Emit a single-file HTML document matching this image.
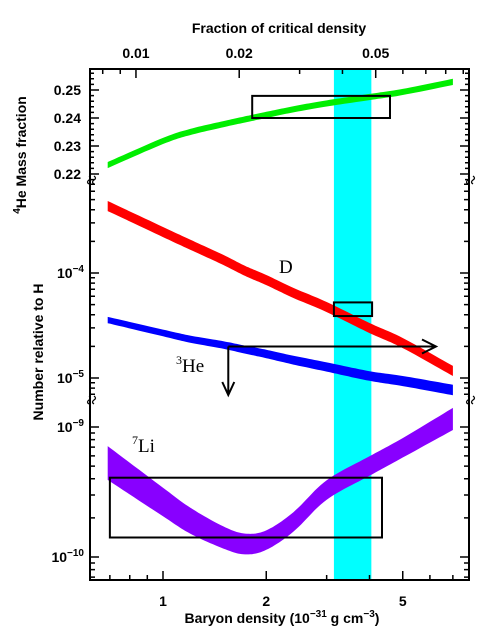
<!DOCTYPE html>
<html><head><meta charset="utf-8"><style>
html,body{margin:0;padding:0;background:#fff;}
svg{display:block;font-family:"Liberation Sans",sans-serif;}
.tl{font-weight:bold;font-size:14px;}
</style></head><body>
<svg id="chart" width="490" height="636" viewBox="0 0 490 636" xmlns="http://www.w3.org/2000/svg"></svg>
<script>
// ---- data ----
const rho = [0.69, 1, 1.2, 1.5, 1.735, 2, 2.4, 3, 4, 5, 7];
const he4 = [0.2232, 0.2318, 0.2350, 0.2378, 0.2395, 0.2411, 0.2431, 0.2452, 0.2475, 0.2493, 0.2529];
const dLog = [-3.362, -3.61, -3.73, -3.876, -3.98, -4.067, -4.19, -4.324, -4.524, -4.667, -4.933];
const he3Log = [-4.448, -4.571, -4.63, -4.686, -4.73, -4.771, -4.83, -4.895, -4.981, -5.029, -5.114];
const li7Log = [-9.277, -9.577, -9.72, -9.85, -9.90, -9.87, -9.73, -9.485, -9.30, -9.16, -8.938];
const li7Half = [0.13, 0.11, 0.1, 0.085, 0.08, 0.075, 0.075, 0.075, 0.075, 0.075, 0.085];
const xTicks = [1, 2, 5];
const omegaTicks = [0.01, 0.02, 0.05];
const heTicks = [0.22, 0.23, 0.24, 0.25];
const bandRho = [3.15, 4.05];
const heBox = [1.82, 4.59, 0.2400, 0.2479];
const dBox = [3.15, 4.07, -4.41, -4.28];
const liBox = [0.7, 4.35, -9.39, -9.85];
const he3Limit = [1.55, -4.7];

// ---- axes ----
const L=90,R=469,T=69,B=580;
const X=v=>163+343*Math.log10(v);
const OM=o=>X(o*83.4);
const YHe=v=>90+(0.25-v)*2800;
const YMid=l=>273+(-4-l)*105;
const YLi=l=>427+(-9-l)*130;

const svg=document.getElementById('chart');
const NS='http://www.w3.org/2000/svg';
function mk(tag,attrs,parent){const e=document.createElementNS(NS,tag);for(const k in attrs)e.setAttribute(k,attrs[k]);(parent||svg).appendChild(e);return e;}

const band=mk('rect',{x:X(bandRho[0]),y:T,width:X(bandRho[1])-X(bandRho[0]),height:B-T,fill:'#00ffff'});



function smooth(px,py){
  const out=[];const n=px.length;
  for(let i=0;i<n-1;i++){
    const x0=px[Math.max(i-1,0)],x1=px[i],x2=px[i+1],x3=px[Math.min(i+2,n-1)];
    const y0=py[Math.max(i-1,0)],y1=py[i],y2=py[i+1],y3=py[Math.min(i+2,n-1)];
    for(let k=0;k<12;k++){const t=k/12,t2=t*t,t3=t2*t;
      const f=(a,b,c,d)=>0.5*((2*b)+(-a+c)*t+(2*a-5*b+4*c-d)*t2+(-a+3*b-3*c+d)*t3);
      out.push([f(x0,x1,x2,x3),f(y0,y1,y2,y3)]);}
  }
  out.push([px[n-1],py[n-1]]);return out;
}
function bandPath(yf,vals,half){
  const xs=rho.map(X);
  const up=smooth(xs,vals.map((v,i)=>yf(v+(Array.isArray(half)?half[i]:half))));
  const lo=smooth(xs,vals.map((v,i)=>yf(v-(Array.isArray(half)?half[i]:half))));
  const p=a=>a.map(q=>q[0].toFixed(1)+','+q[1].toFixed(1));
  return 'M'+p(up).join(' L')+' L'+p(lo).reverse().join(' L')+' Z';
}
const g1=mk('path',{d:bandPath(YHe,he4,0.0011),fill:'#00ee00'});


const g2=mk('path',{d:bandPath(YMid,dLog,0.048),fill:'#ff0000'});


const he3Half=rho.map((r,i)=>0.03+0.02*i/(rho.length-1));
const g3=mk('path',{d:bandPath(YMid,he3Log,he3Half),fill:'#0000ff'});


const g4=mk('path',{d:bandPath(YLi,li7Log,li7Half),fill:'#8800ff'});



function box(b,yf,name){const y1=yf(b[2]),y2=yf(b[3]);const r=mk('rect',{x:X(b[0]),y:Math.min(y1,y2),width:X(b[1])-X(b[0]),height:Math.abs(y2-y1),fill:'none',stroke:'#000','stroke-width':2});
}
box(heBox,YHe,'he4-observed-box');
box(dBox,YMid,'deuterium-observed-box');
box(liBox,YLi,'li7-observed-box');

const ax=X(he3Limit[0]),ay=YMid(he3Limit[1]);
const arr=mk('g',{stroke:'#000','stroke-width':2,fill:'none'});


mk('path',{d:`M${ax},${ay} H436 M422,${ay-7} L436,${ay} L422,${ay+7} M${ax},${ay} V395 M${ax-6},382 L${ax},395 L${ax+6},382`},arr);

const fr=mk('rect',{x:L,y:T,width:R-L,height:B-T,fill:'none',stroke:'#000','stroke-width':2});



let tk='';
for(let d=-1;d<=0;d++)for(let m=1;m<10;m++){const v=m*Math.pow(10,d);const x=X(v);if(x<L+1||x>R-1)continue;const len=(m==1||m==2||m==5)?9:5;tk+=`M${x},${B} v${-len} `;}
for(let d=-3;d<=-1;d++)for(let m=1;m<10;m++){const v=m*Math.pow(10,d);const x=OM(v);if(x<L+1||x>R-1)continue;const len=(m==1||m==2||m==5)?9:5;tk+=`M${x},${T} v${len} `;}
for(let v=0.218;v<=0.2561;v+=0.002){const y=YHe(v);if(y<T+1)continue;const major=Math.abs(v*100-Math.round(v*100))<1e-6;const len=major?9:4;tk+=`M${L},${y} h${len} M${R},${y} h${-len} `;}
function logTicks(yf,lo,hi,ymin,ymax){for(let d=lo;d<=hi;d++)for(let m=1;m<10;m++){const y=yf(d+Math.log10(m));if(y<ymin||y>ymax)continue;const len=m==1?9:5;tk+=`M${L},${y} h${len} M${R},${y} h${-len} `;}}
logTicks(YMid,-6,-4,184,398);
logTicks(YLi,-11,-9,404,B-1);
const tp=mk('path',{d:tk,stroke:'#000','stroke-width':1.5,fill:'none'});



[180,400].forEach((y,i)=>{[L,R].forEach((x,j)=>{const b=mk('path',{d:`M${x-4},${y-4} q2,-3 4,0 t4,0 M${x-4},${y+1} q2,-3 4,0 t4,0`,stroke:'#000','stroke-width':1.3,fill:'none',transform:`rotate(90 ${x} ${y})`});
});});

function txt(x,y,s,attrs,name){const t=mk('text',Object.assign({x:x,y:y},attrs||{}));t.innerHTML=s;return t;}
xTicks.forEach(v=>txt(X(v),606,String(v),{class:'tl','text-anchor':'middle'},'x-tick-label'));
omegaTicks.forEach(v=>txt(OM(v),58,String(v),{class:'tl','text-anchor':'middle'},'top-tick-label'));
heTicks.forEach(v=>txt(81,YHe(v)+5,v.toFixed(2),{class:'tl','text-anchor':'end'},'he4-tick-label'));
txt(84,YMid(-4)+5,'10<tspan dy="-6" font-size="10">−4</tspan>',{class:'tl','text-anchor':'end'},'y-tick-label');
txt(84,YMid(-5)+5,'10<tspan dy="-6" font-size="10">−5</tspan>',{class:'tl','text-anchor':'end'},'y-tick-label');
txt(84,YLi(-9)+5,'10<tspan dy="-6" font-size="10">−9</tspan>',{class:'tl','text-anchor':'end'},'y-tick-label');
txt(84,YLi(-10)+5,'10<tspan dy="-6" font-size="10">−10</tspan>',{class:'tl','text-anchor':'end'},'y-tick-label');

txt(282,623,'Baryon density (10<tspan dy="-6" font-size="10">−31</tspan><tspan dy="6"> g cm</tspan><tspan dy="-6" font-size="10">−3</tspan><tspan dy="6">)</tspan>',{class:'tl','text-anchor':'middle'},'x-axis-title');
txt(279,33,'Fraction of critical density',{class:'tl','text-anchor':'middle'},'top-axis-title');
txt(0,0,'<tspan font-size="10" dy="-6">4</tspan><tspan dy="6">He Mass fraction</tspan>',{class:'tl','text-anchor':'middle',transform:'translate(26,155) rotate(-90)'},'he4-y-axis-title');
txt(0,0,'Number relative to H',{class:'tl','text-anchor':'middle',transform:'translate(43,352) rotate(-90)'},'abundance-y-axis-title');

const serif={'font-family':'"Liberation Serif",serif','font-size':'19px'};
txt(279,273,'D',serif,'deuterium-label');
txt(176,372,'<tspan font-size="12" dy="-8">3</tspan><tspan dy="8">He</tspan>',serif,'he3-label');
txt(132,452,'<tspan font-size="12" dy="-8">7</tspan><tspan dy="8">Li</tspan>',serif,'li7-label');
</script>
</body></html>
